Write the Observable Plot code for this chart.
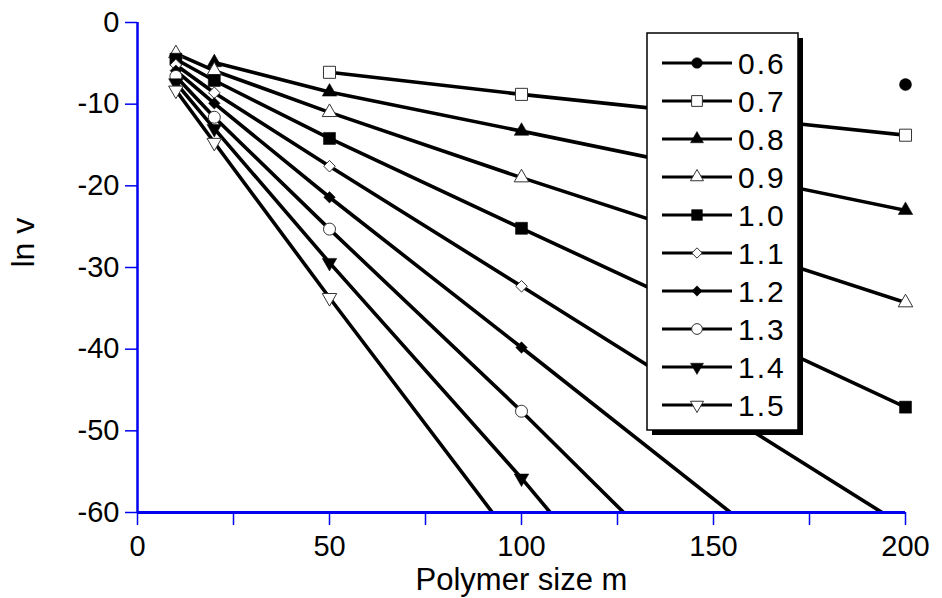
<!DOCTYPE html>
<html><head><meta charset="utf-8">
<script src="https://cdn.jsdelivr.net/npm/d3@7"></script>
<script src="https://cdn.jsdelivr.net/npm/@observablehq/plot@0.6"></script>
<style>
body{margin:0;background:#fff;}
#chart svg{font-family:"Liberation Sans",Arial,sans-serif;}
</style>
</head><body><div id="chart"></div>
<script>
// ---- data ----
const sizes = [10, 20, 50, 100, 200];
const seriesNames = ["0.6","0.7","0.8","0.9","1.0","1.1","1.2","1.3","1.4","1.5"];
const v06 = [null, null, null, null, -7.6];
const v07 = [null, null, -6.1, -8.8, -13.8];
const v08 = [null, -4.9, -8.5, -13.3, -23.0];
const v09 = [-3.8, -5.9, -11.0, -19.0, -34.3];
const v10 = [-4.5, -7.1, -14.2, -25.2, -47.1];
const v11 = [-5.2, -8.6, -17.6, -32.3, -61.8];
const v12 = [-5.9, -9.9, -21.4, -39.8, -76.9];
const v13 = [-6.6, -11.6, -25.3, -47.6, -94.2];
const v14 = [-7.4, -13.0, -29.4, -55.8, -111.8];
const v15 = [-8.3, -14.7, -33.7, -64.7, -126.0];
const seriesValues = [v06, v07, v08, v09, v10, v11, v12, v13, v14, v15];
const xTicks = [0, 25, 50, 75, 100, 125, 150, 175, 200];
const xTickLabels = [0, 50, 100, 150, 200];
const yTicks = [0, -10, -20, -30, -40, -50, -60];

// ---- styles ----
const sqrt3 = Math.sqrt(3);
const triangleDown = {
  draw(context, size) {
    const y = -Math.sqrt(size / (sqrt3 * 3));
    context.moveTo(0, -y * 2);
    context.lineTo(-sqrt3 * y, y);
    context.lineTo(sqrt3 * y, y);
    context.closePath();
  }
};
const markerStyle = [
  {symbol: d3.symbolCircle,   fill: "black", r: 6},
  {symbol: d3.symbolSquare,   fill: "white", r: 6.8},
  {symbol: d3.symbolTriangle, fill: "black", r: 5.4},
  {symbol: d3.symbolTriangle, fill: "white", r: 5.4},
  {symbol: d3.symbolSquare,   fill: "black", r: 6.8},
  {symbol: d3.symbolDiamond2, fill: "white", r: 5.2},
  {symbol: d3.symbolDiamond2, fill: "black", r: 5.2},
  {symbol: d3.symbolCircle,   fill: "white", r: 6},
  {symbol: triangleDown,      fill: "black", r: 5.4},
  {symbol: triangleDown,      fill: "white", r: 5.4}
];

const rows = [];
seriesNames.forEach((name, i) => {
  sizes.forEach((m, j) => {
    const v = seriesValues[i][j];
    if (v != null) rows.push({series: name, idx: i, m, v});
  });
});

const blue = "#0000f0";
const marks = [];
seriesNames.forEach((name, i) => {
  const d = rows.filter(r => r.series === name);
  marks.push(Plot.line(d, {x: "m", y: "v", stroke: "black", strokeWidth: 3.6, clip: true}));
});
seriesNames.forEach((name, i) => {
  const d = rows.filter(r => r.series === name && r.v >= -60);
  const st = markerStyle[i];
  marks.push(Plot.dot(d, {x: "m", y: "v", symbol: st.symbol, r: st.r, fill: st.fill,
    stroke: st.fill === "white" ? "#333" : "black", strokeWidth: st.fill === "white" ? 1 : 0.5}));
});

const plot = Plot.plot({
  width: 942,
  height: 598,
  marginLeft: 137,
  marginRight: 37,
  marginTop: 22,
  marginBottom: 86,
  style: {fontFamily: '"Liberation Sans", Arial, sans-serif', background: "white", color: "black"},
  x: {domain: [0, 200]},
  y: {domain: [-60, 0]},
  marks: [
    Plot.axisX({ticks: xTicks, tickSize: 13, tickPadding: 10, stroke: blue, strokeWidth: 1.5, fill: "black",
      fontSize: 29, tickFormat: d => xTickLabels.includes(d) ? String(d) : "", label: null}),
    Plot.axisY({ticks: yTicks, tickSize: 12, tickPadding: 6, stroke: blue, strokeWidth: 1.5, fill: "black",
      fontSize: 29, tickFormat: d => String(d), label: null}),
    ...marks,
    Plot.ruleY([-60], {stroke: blue, strokeWidth: 3}),
    Plot.ruleX([0], {stroke: blue, strokeWidth: 2.5}),
    Plot.text(["Polymer size m"], {text: d => d, frameAnchor: "bottom", lineAnchor: "middle", dy: 68, fontSize: 31}),
    Plot.text(["ln v"], {text: d => d, frameAnchor: "left", dx: -114, rotate: -90, fontSize: 32})
  ]
});

// ---- legend ----
const svg = d3.select(plot);
const lg = svg.append("g").attr("transform", "translate(647,33)");
const lw = 151, lh = 397;
lg.append("rect").attr("x", 5).attr("y", 5).attr("width", lw).attr("height", lh).attr("fill", "black");
lg.append("rect").attr("x", 0).attr("y", 0).attr("width", lw).attr("height", lh)
  .attr("fill", "white").attr("stroke", "black").attr("stroke-width", 1.5);
seriesNames.forEach((name, i) => {
  const yy = 30 + i * 38;
  const st = markerStyle[i];
  lg.append("line").attr("x1", 15).attr("x2", 85).attr("y1", yy).attr("y2", yy)
    .attr("stroke", "black").attr("stroke-width", 3);
  lg.append("path").attr("transform", `translate(50,${yy})`)
    .attr("d", d3.symbol().type(st.symbol).size(Math.PI * st.r * st.r * 0.8)())
    .attr("fill", st.fill).attr("stroke", st.fill === "white" ? "#333" : "black")
    .attr("stroke-width", st.fill === "white" ? 1 : 0.5);
  lg.append("text").attr("x", 91).attr("y", yy).attr("dy", "0.36em").attr("text-anchor", "start")
    .attr("font-size", 30).attr("letter-spacing", "2px").attr("fill", "black").text(name);
});

document.getElementById("chart").appendChild(plot);
</script>
</body></html>
